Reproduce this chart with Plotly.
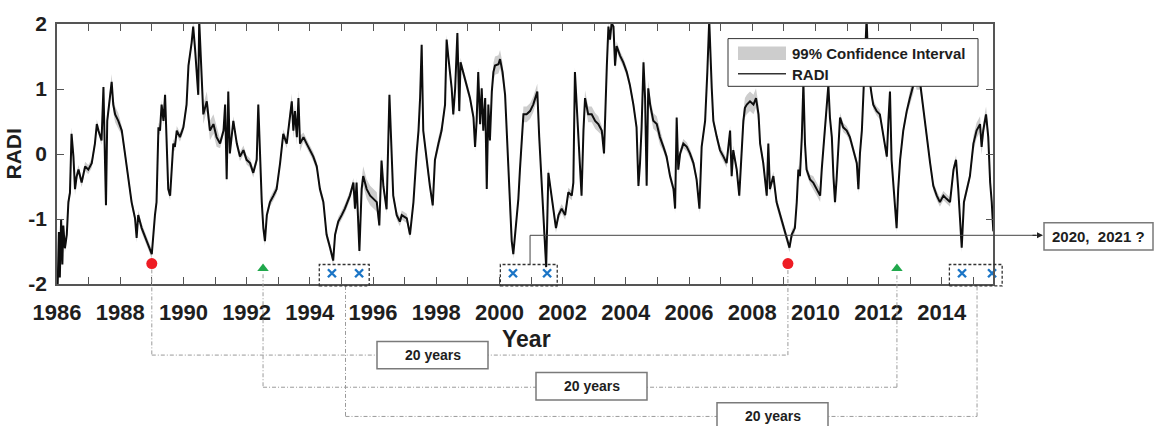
import plotly.graph_objects as go

# ---------------- data ----------------
years = [
 1986.02, 1986.06, 1986.09, 1986.13, 1986.17, 1986.20, 1986.25, 1986.31, 1986.36, 1986.41,
 1986.46, 1986.52, 1986.57, 1986.62, 1986.68, 1986.78, 1986.89, 1986.99, 1987.10, 1987.20,
 1987.26, 1987.31, 1987.41, 1987.47, 1987.52, 1987.55, 1987.59, 1987.68, 1987.73, 1987.78,
 1987.84, 1987.94, 1988.05, 1988.15, 1988.26, 1988.36, 1988.47, 1988.52, 1988.57, 1988.68,
 1988.84, 1989.00, 1989.10, 1989.15, 1989.21, 1989.26, 1989.31, 1989.37, 1989.42, 1989.47,
 1989.52, 1989.58, 1989.63, 1989.68, 1989.73, 1989.79, 1989.89, 1990.00, 1990.10, 1990.16,
 1990.26, 1990.31, 1990.37, 1990.42, 1990.47, 1990.50, 1990.58, 1990.63, 1990.74, 1990.84,
 1990.95, 1991.05, 1991.16, 1991.27, 1991.32, 1991.37, 1991.42, 1991.47, 1991.58, 1991.69,
 1991.79, 1991.90, 1992.00, 1992.11, 1992.21, 1992.32, 1992.37, 1992.42, 1992.48, 1992.53,
 1992.58, 1992.64, 1992.74, 1992.85, 1992.95, 1993.06, 1993.16, 1993.27, 1993.37, 1993.43,
 1993.48, 1993.53, 1993.59, 1993.64, 1993.69, 1993.80, 1993.90, 1994.01, 1994.11, 1994.22,
 1994.32, 1994.43, 1994.53, 1994.64, 1994.74, 1994.80, 1994.90, 1995.01, 1995.11, 1995.27,
 1995.38, 1995.43, 1995.48, 1995.57, 1995.64, 1995.69, 1995.80, 1995.91, 1996.01, 1996.12,
 1996.20, 1996.27, 1996.33, 1996.43, 1996.52, 1996.57, 1996.64, 1996.75, 1996.85, 1996.91,
 1997.07, 1997.17, 1997.28, 1997.38, 1997.44, 1997.49, 1997.54, 1997.59, 1997.70, 1997.80,
 1997.89, 1997.96, 1998.07, 1998.17, 1998.28, 1998.33, 1998.38, 1998.44, 1998.49, 1998.54,
 1998.60, 1998.67, 1998.73, 1998.77, 1998.86, 1998.96, 1999.07, 1999.18, 1999.23, 1999.28,
 1999.33, 1999.39, 1999.44, 1999.49, 1999.55, 1999.60, 1999.65, 1999.70, 1999.76, 1999.81,
 1999.86, 1999.97, 2000.02, 2000.10, 2000.18, 2000.23, 2000.28, 2000.34, 2000.39, 2000.44,
 2000.49, 2000.55, 2000.60, 2000.65, 2000.71, 2000.76, 2000.86, 2000.97, 2001.07, 2001.16,
 2001.20, 2001.26, 2001.34, 2001.41, 2001.48, 2001.55, 2001.62, 2001.71, 2001.79, 2001.87,
 2001.97, 2002.08, 2002.18, 2002.29, 2002.34, 2002.39, 2002.45, 2002.50, 2002.55, 2002.60,
 2002.66, 2002.71, 2002.81, 2002.92, 2003.03, 2003.13, 2003.24, 2003.31, 2003.40, 2003.45,
 2003.50, 2003.55, 2003.61, 2003.66, 2003.71, 2003.82, 2003.92, 2004.03, 2004.13, 2004.24,
 2004.34, 2004.40, 2004.45, 2004.50, 2004.56, 2004.61, 2004.66, 2004.71, 2004.77, 2004.87,
 2004.98, 2005.08, 2005.19, 2005.29, 2005.40, 2005.51, 2005.56, 2005.61, 2005.66, 2005.72,
 2005.82, 2005.93, 2006.03, 2006.14, 2006.24, 2006.33, 2006.40, 2006.51, 2006.58, 2006.64,
 2006.72, 2006.77, 2006.88, 2006.98, 2007.09, 2007.19, 2007.30, 2007.35, 2007.40, 2007.51,
 2007.59, 2007.67, 2007.72, 2007.77, 2007.83, 2007.93, 2008.04, 2008.12, 2008.20, 2008.25,
 2008.35, 2008.46, 2008.51, 2008.56, 2008.67, 2008.77, 2008.88, 2008.99, 2009.09, 2009.18,
 2009.25, 2009.35, 2009.41, 2009.46, 2009.51, 2009.57, 2009.62, 2009.67, 2009.72, 2009.83,
 2009.93, 2010.04, 2010.15, 2010.20, 2010.25, 2010.30, 2010.36, 2010.41, 2010.46, 2010.52,
 2010.57, 2010.62, 2010.67, 2010.73, 2010.78, 2010.88, 2010.99, 2011.09, 2011.20, 2011.31,
 2011.36, 2011.41, 2011.47, 2011.52, 2011.57, 2011.62, 2011.68, 2011.73, 2011.78, 2011.83,
 2011.94, 2012.04, 2012.15, 2012.26, 2012.31, 2012.36, 2012.41, 2012.47, 2012.52, 2012.57,
 2012.62, 2012.68, 2012.78, 2012.89, 2012.99, 2013.10, 2013.15, 2013.20, 2013.31, 2013.42,
 2013.52, 2013.63, 2013.73, 2013.84, 2013.94, 2014.05, 2014.15, 2014.26, 2014.37, 2014.45,
 2014.52, 2014.58, 2014.63, 2014.70, 2014.79, 2014.89, 2015.00, 2015.10, 2015.21, 2015.26,
 2015.31, 2015.40, 2015.47, 2015.53, 2015.58, 2015.63,
]

radi = [
 -2.05, -1.20, -1.90, -1.00, -1.70, -1.10, -1.45, -1.24, -0.74, -0.60,
  0.31, -0.04, -0.54, -0.35, -0.24, -0.44, -0.19, -0.24, -0.14,  0.16,
  0.46,  0.36,  0.21,  1.03, -0.14, -0.79,  0.51,  0.91,  1.11,  0.76,
  0.61,  0.51,  0.36,  0.01, -0.39, -0.74, -0.99, -1.29, -0.94, -1.14,
 -1.34, -1.54, -0.94, -0.74,  0.41,  0.36,  0.76,  0.51,  0.91,  0.16,
 -0.54, -0.64, -0.14,  0.16,  0.11,  0.36,  0.26,  0.41,  0.76,  1.36,
  1.71,  1.96,  1.61,  1.26,  0.91,  2.06,  1.26,  0.61,  0.81,  0.36,
  0.46,  0.26,  0.16,  0.36,  0.76, -0.39,  0.96,  0.01,  0.51,  0.16,
 -0.04,  0.06, -0.09, -0.14, -0.29, -0.09,  0.76,  0.01, -0.74, -1.14,
 -1.34, -0.94, -0.74, -0.64, -0.54, -0.14,  0.31,  0.16,  0.56,  0.81,
  0.36,  0.66,  0.26,  0.86,  0.16,  0.26,  0.16,  0.06, -0.04, -0.19,
 -0.54, -0.74, -1.24, -1.44, -1.64, -1.24, -1.04, -0.94, -0.84, -0.64,
 -0.44, -0.84, -0.44, -1.49, -0.54, -0.34, -0.54, -0.64, -0.69, -0.74,
 -1.10, -0.10, -0.50, -0.85,  0.91,  0.30, -0.64, -0.94, -1.04, -0.94,
 -0.99, -1.24, -0.74,  0.01,  0.36,  0.86,  1.68,  0.36, -0.14, -0.49,
 -0.79, -0.09,  0.16,  0.36,  0.76,  1.76,  1.51,  1.26,  1.01,  0.61,
  1.01,  1.86,  0.66,  1.41,  1.26,  1.06,  0.86,  0.56,  0.11,  0.51,
  1.26,  0.46,  1.01,  0.36,  0.86, -0.54,  0.76,  0.21,  0.96,  1.26,
  1.36,  1.38,  1.46,  1.26,  0.91,  0.36, -0.24, -0.99, -1.34, -1.54,
 -1.24, -0.94, -0.69, -0.24,  0.16,  0.61,  0.61,  0.66,  0.76,  0.91,
  0.96,  0.26, -0.49, -1.24, -1.74, -0.29, -0.54, -0.84, -1.14, -0.94,
 -0.84, -0.94, -0.59, -0.64, -0.44,  1.26,  0.76,  0.26, -0.24, -0.64,
  0.36,  0.86,  0.61,  0.61,  0.51,  0.46,  0.36,  0.01,  1.36,  1.96,
  1.76,  2.01,  1.96,  1.36,  1.66,  1.51,  1.41,  1.26,  1.06,  0.76,
  0.41, -0.49, -0.14,  0.41,  1.41,  0.86, -0.49,  1.01,  0.76,  0.51,
  0.46,  0.26,  0.11, -0.04, -0.34, -0.54, -0.84,  0.56, -0.24,  0.01,
  0.16,  0.11,  0.01, -0.14, -0.39, -0.84,  0.11,  0.51,  1.26,  2.06,
  1.01,  0.51,  0.26,  0.06, -0.04, -0.14,  0.36, -0.34,  0.06, -0.24,
 -0.64,  0.01,  0.51,  0.71,  0.76,  0.81,  0.76,  0.86,  0.61,  0.16,
 -0.14, -0.64,  0.16, -0.54, -0.34, -0.74, -0.94, -1.14, -1.29, -1.44,
 -1.24, -1.14, -0.74, -0.24, -0.34,  0.26,  1.10,  0.16, -0.24, -0.39,
 -0.44, -0.54, -0.64, -0.24,  0.06,  0.36,  0.66,  1.06,  0.56,  0.26,
 -0.34, -0.74, -0.39,  0.16,  0.56,  0.41,  0.36,  0.26,  0.06, -0.14,
 -0.54,  0.01,  0.36,  0.96,  1.51,  2.08,  1.26,  1.06,  0.91,  0.76,
  0.66,  0.61,  0.31, -0.04,  0.51,  0.96, -0.09, -0.49, -0.74, -1.14,
 -0.54, -0.09,  0.36,  0.66,  0.86,  1.06,  1.26,  1.11,  1.11,  0.66,
  0.26, -0.14, -0.49, -0.64, -0.74, -0.64, -0.69, -0.74, -0.24, -0.09,
 -0.54, -0.99, -1.44, -0.74, -0.54, -0.34,  0.16,  0.36,  0.46,  0.11,
  0.36,  0.61,  0.26, -0.44, -0.74, -1.19,
]

# half-width of the 99% confidence band, read per stretch of years
ci_base_half = 0.07
ci_wide_stretches = [  # (from year, to year, half-width)
    (1986.28, 1986.60, 0.10),
    (1987.68, 1988.00, 0.12),
    (1990.58, 1991.10, 0.15),
    (1993.40, 1993.70, 0.12),
    (1995.60, 1996.15, 0.15),
    (1998.00, 1998.20, 0.10),
    (1999.80, 2000.12, 0.14),
    (2000.70, 2001.20, 0.12),
    (2002.70, 2003.20, 0.12),
    (2004.70, 2005.10, 0.12),
    (2007.70, 2008.22, 0.15),
    (2009.90, 2010.20, 0.10),
    (2012.90, 2013.40, 0.12),
    (2015.00, 2015.50, 0.12),
]

red_years = [1989.00, 2009.13]
red_level = -1.685
green_years = [1992.52, 2012.58]
green_level = -1.76
blue_years = [1994.70, 1995.56, 2000.43, 2001.51, 2014.64, 2015.59]
blue_level = -1.835

tick_years = list(range(1986, 2016))
tick_labels = [str(y) if y % 2 == 0 else "" for y in tick_years]
y_ticks = [-2, -1, 0, 1, 2]

# ---------------- layout geometry ----------------
W, H = 1155, 426
ML, MR, MT, MB = 57, 162, 17, 142
PW, PH = W - ML - MR, H - MT - MB
X_RANGE = [1986.0, 2015.62]
Y_RANGE = [-2.0, 2.0]
FONT = "Liberation Sans, Arial, Helvetica, sans-serif"
TXT = "#1e1e1e"


def dx(year):
    return (year - X_RANGE[0]) / (X_RANGE[1] - X_RANGE[0])


def fx(xpix):
    return (xpix - ML) / PW


def fy(ypix):
    return (H - MB - ypix) / PH


ci_half = []
for yr in years:
    h = ci_base_half
    for a, b, w in ci_wide_stretches:
        if a <= yr <= b:
            h = w
    ci_half.append(h)
upper = [v + h for v, h in zip(radi, ci_half)]
lower = [v - h for v, h in zip(radi, ci_half)]

fig = go.Figure()
fig.add_trace(go.Scatter(
    x=years + years[::-1], y=upper + lower[::-1], fill="toself",
    fillcolor="#cdcdcd", line=dict(width=0), mode="lines",
    name="99% Confidence Interval", hoverinfo="skip"))
fig.add_trace(go.Scatter(
    x=years, y=radi, mode="lines", line=dict(color="#0d0d0d", width=2.0),
    name="RADI"))
fig.add_trace(go.Scatter(
    x=red_years, y=[red_level] * len(red_years), mode="markers", cliponaxis=False,
    marker=dict(symbol="circle", size=11, color="#ee1c24"), showlegend=False))
fig.add_trace(go.Scatter(
    x=green_years, y=[green_level] * len(green_years), mode="markers", cliponaxis=False,
    marker=dict(symbol="triangle-up", size=10, color="#21a84c"), showlegend=False))
fig.add_trace(go.Scatter(
    x=blue_years, y=[blue_level] * len(blue_years), mode="markers", cliponaxis=False,
    marker=dict(symbol="x-thin", size=8, line=dict(width=2.4, color="#1b75c6")),
    showlegend=False))

shapes = []
annots = []
DASH = dict(color="#9a9a9a", width=1, dash="4px,2px,1px,2px")


def seg(x0, y0, x1, y1, line):
    shapes.append(dict(type="line", xref="paper", yref="paper",
                       x0=x0, y0=y0, x1=x1, y1=y1, line=line, layer="above"))


def box(x0p, y0p, x1p, y1p, text, size):
    shapes.append(dict(type="rect", xref="paper", yref="paper",
                       x0=fx(x0p), x1=fx(x1p), y0=fy(y0p), y1=fy(y1p),
                       fillcolor="white", line=dict(color="#7a7a7a", width=1.5),
                       layer="above"))
    annots.append(dict(xref="paper", yref="paper", x=fx((x0p + x1p) / 2),
                       y=fy((y0p + y1p) / 2), text=text, showarrow=False,
                       xanchor="center", yanchor="middle",
                       font=dict(family=FONT, size=size, color=TXT, weight="bold")))


# 20-year connectors (dash-dot)
pairs = [
    (red_years[0], red_years[1], 269, 357),
    (green_years[0], green_years[1], 274, 390),
    ((blue_years[0] + blue_years[1]) / 2, (blue_years[4] + blue_years[5]) / 2, 286, 420),
]
for a, b, ytop, ylev in pairs:
    seg(dx(a), fy(ytop), dx(a), fy(ylev), DASH)
    seg(dx(a), fy(ylev), dx(b), fy(ylev), DASH)
    seg(dx(b), fy(ylev), dx(b), fy(ytop), DASH)

# dashed boxes around blue crosses
for i in range(0, len(blue_years), 2):
    shapes.append(dict(type="rect", xref="paper", yref="paper",
                       x0=dx(blue_years[i] - 0.40), x1=dx(blue_years[i + 1] + 0.32),
                       y0=fy(286), y1=fy(264),
                       line=dict(color="#333333", width=1.3, dash="3px,2px"), layer="above"))

# solid arrow towards "2020, 2021 ?"
mid2 = (blue_years[2] + blue_years[3]) / 2
SOLID = dict(color="#444444", width=1)
seg(dx(mid2), fy(264), dx(mid2), fy(234), SOLID)
seg(dx(mid2), fy(234), fx(1036), fy(234), SOLID)
annots.append(dict(xref="paper", yref="paper", axref="pixel", ayref="pixel",
                   x=fx(1043), y=fy(234), ax=-12, ay=0, text="", showarrow=True,
                   arrowhead=2, arrowsize=1.2, arrowwidth=1, arrowcolor="#222222"))

box(377, 343, 488, 371, "20 years", 14)
box(536, 375, 647, 403, "20 years", 14)
box(717, 406, 828, 434, "20 years", 14)
box(1044, 221, 1153, 249, "2020,  2021 ?", 15)

# legend (drawn in place, opaque over the data)
shapes.append(dict(type="rect", xref="paper", yref="paper",
                   x0=fx(728), x1=fx(978), y0=fy(81), y1=fy(32),
                   fillcolor="white", line=dict(color="#333333", width=1), layer="above"))
shapes.append(dict(type="rect", xref="paper", yref="paper",
                   x0=fx(738), x1=fx(786), y0=fy(54), y1=fy(40),
                   fillcolor="#cdcdcd", line=dict(width=0), layer="above"))
seg(fx(738), fy(68), fx(786), fy(68), dict(color="#333333", width=1.5))
for label, ypix in [("99% Confidence Interval", 47), ("RADI", 69)]:
    annots.append(dict(xref="paper", yref="paper", x=fx(790), y=fy(ypix), text=label,
                       showarrow=False, xanchor="left", yanchor="middle",
                       font=dict(family=FONT, size=15, color=TXT, weight="bold")))

# axis titles
annots.append(dict(xref="paper", yref="paper", x=fx(526), y=fy(340), text="Year",
                   showarrow=False, xanchor="center", yanchor="middle",
                   font=dict(family=FONT, size=23, color=TXT, weight="bold")))
annots.append(dict(xref="paper", yref="paper", x=fx(13), y=fy(151), text="RADI",
                   showarrow=False, xanchor="center", yanchor="middle", textangle=-90,
                   font=dict(family=FONT, size=21, color=TXT, weight="bold")))

axis_common = dict(showgrid=False, zeroline=False, showline=True, linecolor="#555555",
                   linewidth=1.5, mirror="ticks", ticks="inside", ticklen=7,
                   tickwidth=1.2, tickcolor="#555555")
fig.update_layout(
    width=W, height=H, margin=dict(l=ML, r=MR, t=MT, b=MB),
    paper_bgcolor="white", plot_bgcolor="white", showlegend=False,
    xaxis=dict(range=X_RANGE, tickvals=tick_years, ticktext=tick_labels,
               tickfont=dict(family=FONT, size=22, color=TXT, weight="bold"),
               ticklabelstandoff=8, **axis_common),
    yaxis=dict(range=Y_RANGE, tickvals=y_ticks, ticktext=[str(v) for v in y_ticks],
               tickfont=dict(family=FONT, size=21, color=TXT, weight="bold"),
               ticklabelstandoff=4, **axis_common),
    shapes=shapes, annotations=annots,
)
fig.write_html("out.html")
